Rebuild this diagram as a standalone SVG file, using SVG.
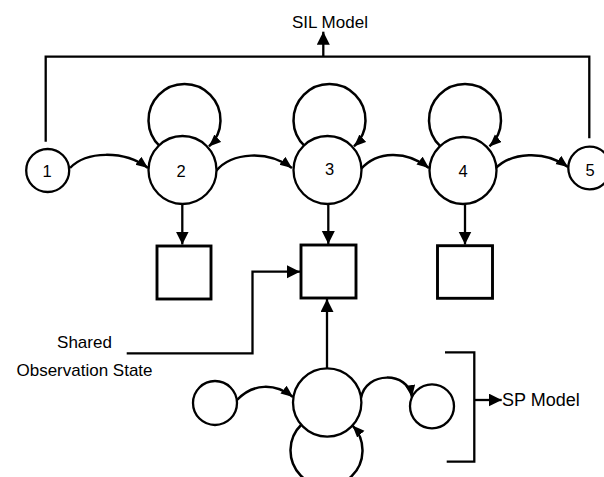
<svg xmlns="http://www.w3.org/2000/svg" width="604" height="477" viewBox="0 0 604 477">
  <style>
    .st { fill: #fff; stroke: #000; stroke-width: 2.3; }
    .box { fill: #fff; stroke: #000; stroke-width: 2.9; }
    .ln { fill: none; stroke: #000; stroke-width: 2.3; }
    .arr { fill: none; stroke: #000; stroke-width: 2.3; marker-end: url(#ah); }
    .carr { fill: none; stroke: #000; stroke-width: 2.5; marker-end: url(#ahs); }
    .lbl { font-family: "Liberation Sans", Arial, sans-serif; font-size: 17px; fill: #000; }
    .num { font-family: "Liberation Sans", Arial, sans-serif; font-size: 16.5px; fill: #000; text-anchor: middle; }
  </style>
  <defs>
    <marker id="ah" markerUnits="userSpaceOnUse" markerWidth="15" markerHeight="14" refX="13" refY="6.5" orient="auto">
      <path d="M0,0 L13,6.5 L0,13 z" fill="#000"/>
    </marker>
    <marker id="ahs" markerUnits="userSpaceOnUse" markerWidth="14" markerHeight="12" refX="12" refY="5" orient="auto">
      <path d="M0,0 L12,5 L0,10 z" fill="#000"/>
    </marker>
  </defs>

  <rect width="604" height="477" fill="#fff"/>

  <!-- connectors -->
  <g id="connectors">
    <!-- SIL model bracket over states 1..5 -->
    <path class="ln" d="M45.7,141.7 V56.7 H589.3 V138.3"/>
    <path class="arr" d="M323.3,56.7 V31.7"/>

    <!-- left-to-right transitions -->
    <path class="carr" d="M70,168 C86,151 124,150 148,168"/>
    <path class="carr" d="M216,171 C232,152 268,150 292,168"/>
    <path class="carr" d="M361,169 C377,151 406,150 429,168"/>
    <path class="carr" d="M495,169 C511,152 545,150 568,167"/>

    <!-- self loops -->
    <path class="carr" d="M160,146.4 A36,36 0 1 1 209,146.4"/>
    <path class="carr" d="M305,146.4 A36,36 0 1 1 354,146.4"/>
    <path class="carr" d="M440.5,146.4 A36,36 0 1 1 489.5,146.4"/>

    <!-- emissions to observation boxes -->
    <path class="arr" d="M182.3,204 V244.5"/>
    <path class="arr" d="M328.3,204 V244"/>
    <path class="arr" d="M465,204 V244.5"/>

    <!-- shared observation state -->
    <path class="arr" d="M126.7,353.3 H252.5 V271.7 H300"/>
    <path class="arr" d="M327,368 V299"/>

    <!-- SP model transitions -->
    <path class="carr" d="M237,400 C253,383 275,383 293,397"/>
    <path class="carr" d="M361,398 C366,371 408,371 412,397"/>
    <path class="carr" d="M301.5,424.5 A36,36 0 1 0 352.5,425.5"/>

    <!-- SP model bracket -->
    <path class="ln" d="M445,352.3 H474.3 V461.7 H446.7"/>
    <path class="arr" d="M474.3,400 H501.7"/>
  </g>

  <!-- SIL states -->
  <g id="s1"><circle class="st" cx="47.7" cy="170.5" r="21.5"/><text class="num" x="47" y="176.5">1</text></g>
  <g id="s2"><circle class="st" cx="182.5" cy="170" r="34"/><text class="num" x="181" y="176.5">2</text></g>
  <g id="s3"><circle class="st" cx="327.5" cy="170" r="34"/><text class="num" x="329.5" y="175">3</text></g>
  <g id="s4"><circle class="st" cx="463" cy="170.5" r="33.5"/><text class="num" x="463" y="176.5">4</text></g>
  <g id="s5"><circle class="st" cx="589.6" cy="168" r="21.3"/><text class="num" x="590" y="175.5">5</text></g>

  <!-- observation boxes -->
  <g id="o2"><rect class="box" x="157" y="246" width="54" height="53"/></g>
  <g id="o3"><rect class="box" x="301" y="245" width="55" height="53"/></g>
  <g id="o4"><rect class="box" x="437.5" y="245.7" width="55" height="52.6"/></g>

  <!-- SP model states -->
  <g id="sp1"><circle class="st" cx="215" cy="403" r="22"/></g>
  <g id="sp2"><circle class="st" cx="327.2" cy="402.5" r="34.2"/></g>
  <g id="sp3"><circle class="st" cx="432" cy="406.3" r="22"/></g>

  <!-- labels -->
  <g id="labels">
    <text class="lbl" x="292" y="28.3">SIL Model</text>
    <text class="lbl" x="84.5" y="348.3" text-anchor="middle">Shared</text>
    <text class="lbl" x="84.5" y="376" text-anchor="middle">Observation State</text>
    <text class="lbl" x="502" y="406" style="font-size:18px">SP Model</text>
  </g>
</svg>
